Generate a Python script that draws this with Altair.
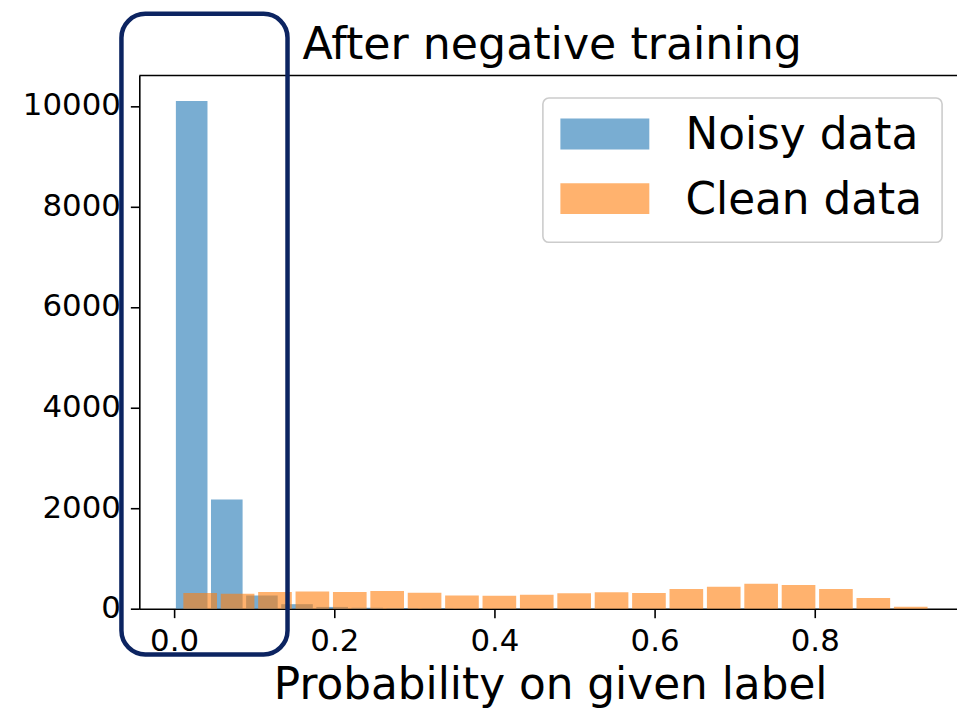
import altair as alt
import numpy as np
import pandas as pd

# ---- data ----
series_names = ["Noisy data", "Clean data"]
series_colors = ["#1f77b4", "#ff7f0e"]

noisy_counts = [10100, 2170, 260, 90, 35, 18, 12, 8, 6, 5, 4, 4, 3, 3, 3, 3, 2, 2, 2, 1]
noisy_bin_start = 0.0
noisy_bin_width = 0.04385

clean_counts = [311, 297, 330, 343, 330, 350, 317, 264, 258, 275, 308, 325, 312, 394, 434, 498, 469, 393, 215, 40]
clean_bin_start = 0.0092
clean_bin_width = 0.0467

rwidth = 0.9
x_ticks = [0.0, 0.2, 0.4, 0.6, 0.8]
y_ticks = [0, 2000, 4000, 6000, 8000, 10000]
x_domain = [-0.04348, 0.97764]
y_domain = [0, 10605]

# highlight box (data coordinates)
box_x = [-0.0658, 0.1416]
box_y = [-910, 11832]

title_text = ["After negative training"]
x_title = "Probability on given label"

FONT = "DejaVu Sans"
W, H = 822, 536


def hist_frame(name, counts, start, width):
    n = len(counts)
    edges = start + width * np.arange(n)
    pad = width * (1 - rwidth) / 2
    return pd.DataFrame({
        "series": name,
        "x0": edges + pad,
        "x1": edges + width - pad,
        "count": counts,
        "zero": 0,
    })


bars_df = pd.concat([
    hist_frame(series_names[0], noisy_counts, noisy_bin_start, noisy_bin_width),
    hist_frame(series_names[1], clean_counts, clean_bin_start, clean_bin_width),
], ignore_index=True)

xscale = alt.Scale(domain=x_domain, nice=False, zero=False)
yscale = alt.Scale(domain=y_domain, nice=False, zero=False)

xaxis = alt.Axis(
    values=x_ticks, format=".1f", title=x_title, titleFontSize=44,
    titleFont=FONT, titleFontWeight="normal", titleColor="black",
    titleBaseline="alphabetic", titleY=90, titleX=413, titleAlign="center",
    labelPadding=9, labelFlush=False, labelOverlap=False, grid=False)
yaxis = alt.Axis(
    values=y_ticks, format="d", title=None, labelPadding=10,
    labelFlush=False, labelOverlap=False, grid=False)

bars = alt.Chart(bars_df).mark_rect(opacity=0.6).encode(
    x=alt.X("x0:Q", scale=xscale, axis=xaxis),
    x2="x1:Q",
    y=alt.Y("count:Q", scale=yscale, axis=yaxis),
    y2="zero:Q",
    color=alt.Color("series:N", scale=alt.Scale(domain=series_names, range=series_colors), legend=None),
)

dummy = pd.DataFrame({"k": [0]})

top_spine = alt.Chart(dummy).mark_rule(color="black", strokeWidth=1.6).encode(
    x=alt.value(0), x2=alt.value(W), y=alt.value(0)
)

box_df = pd.DataFrame({"bx0": [box_x[0]], "bx1": [box_x[1]], "by0": [box_y[0]], "by1": [box_y[1]]})
hbox = alt.Chart(box_df).mark_rect(
    fillOpacity=0, stroke="#0c2461", strokeWidth=4.5, cornerRadius=24, clip=False
).encode(
    x=alt.X("bx0:Q", scale=xscale, axis=xaxis),
    x2="bx1:Q",
    y=alt.Y("by0:Q", scale=yscale, axis=yaxis),
    y2="by1:Q",
)

legend_box = alt.Chart(dummy).mark_rect(
    fill="white", fillOpacity=0.8, stroke="#cccccc", strokeWidth=1.6, cornerRadius=6
).encode(x=alt.value(405.7), x2=alt.value(807), y=alt.value(22.7), y2=alt.value(167.7))

legend_layers = [legend_box]
for i, (lab, col) in enumerate(zip(series_names, series_colors)):
    ldf = pd.DataFrame({"label": [lab]})
    legend_layers.append(
        alt.Chart(ldf).mark_rect(color=col, opacity=0.6).encode(
            x=alt.value(423.3), x2=alt.value(512.7),
            y=alt.value(43.3 + 65 * i), y2=alt.value(74.3 + 65 * i))
    )
    legend_layers.append(
        alt.Chart(ldf).mark_text(align="left", baseline="alphabetic", fontSize=44,
                                 font=FONT, color="black").encode(
            x=alt.value(549), y=alt.value(74.3 + 65 * i), text="label:N")
    )

title_mark = alt.Chart(pd.DataFrame({"t": title_text})).mark_text(
    align="center", baseline="alphabetic", fontSize=44.5, font=FONT, color="black"
).encode(x=alt.value(W / 2 + 4), y=alt.value(-16.7), text="t:N")

chart = alt.layer(bars, top_spine, *legend_layers, hbox, title_mark).properties(
    width=W, height=H,
    padding={"left": 132, "top": 66, "right": 0, "bottom": 101},
    autosize=alt.AutoSizeParams(type="none"),
    background="white",
).configure_view(stroke=None).configure_axis(
    domainColor="black", domainWidth=1.6, tickColor="black", tickWidth=1.6,
    tickSize=9, labelFont=FONT, labelFontSize=31, labelColor="black", grid=False,
    labelLimit=300,
)

chart.save("out.html", embed_options={"renderer": "svg", "actions": False})
